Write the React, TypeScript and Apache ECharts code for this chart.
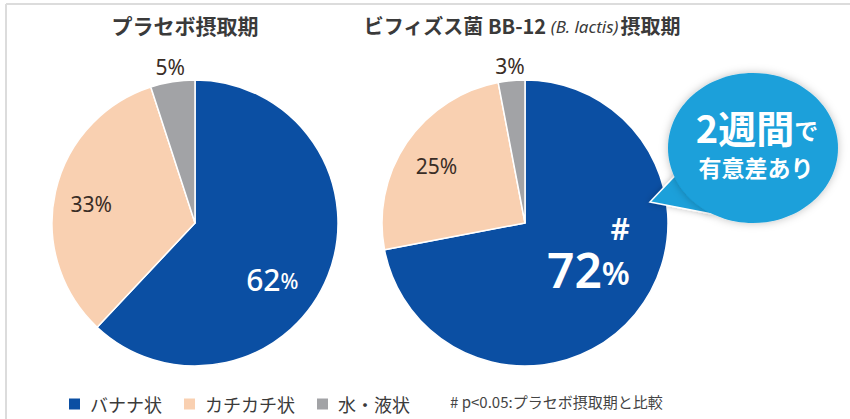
import React, { useEffect, useRef } from "react";
import * as echarts from "echarts";

const categories = ["バナナ状", "カチカチ状", "水・液状"];
const placeboValues = [62, 33, 5];
const bb12Values = [72, 25, 3];
const chartTitles = ["プラセボ摂取期", "ビフィズス菌 BB-12 ", "(B. lactis)", "摂取期"];
const calloutLines = ["2週間", "で", "有意差あり"];
const noteText = "# p<0.05:プラセボ摂取期と比較";
const sigMarks = ["#", "", ""]; // significance mark for the BB-12 series

const COLORS = ["#0b4fa3", "#f9d0b1", "#a2a3a6"];
const FONT = "'Noto Sans', 'Noto Sans CJK JP', sans-serif";
const JFONT = "'Noto Sans CJK JP', 'Noto Sans', sans-serif";

// label style tweaks (padding shifts label within slice)
const leftLabelStyles = [
  { padding: [58, 0, 0, 16], color: "#fff", rich: "big" },
  { padding: [0, 62, 6, 0], color: "#3a2d26", rich: "small" },
  { padding: [0, 26, 164, 0], color: "#3a2d26", rich: "small" },
];
const rightLabelStyles = [
  { padding: [0, 0, 36, 12], color: "#fff", rich: "huge" },
  { padding: [0, 54, 30, 0], color: "#3a2d26", rich: "small" },
  { padding: [0, 16, 166, 0], color: "#3a2d26", rich: "small" },
];

function makeData(values: number[], styles: any[], marks: string[]) {
  return values.map((v, i) => {
    const st = styles[i];
    let formatter: string;
    if (st.rich === "big") formatter = `{b|${v}}{p|%}`;
    else if (st.rich === "huge") formatter = (marks[i] ? `{h|${marks[i]}}\n` : "") + `{b|${v}}{p|%}`;
    else formatter = `{s|${v}%}`;
    return {
      name: categories[i],
      value: v,
      itemStyle: { color: COLORS[i] },
      label: {
        show: true,
        position: "inside",
        formatter,
        padding: st.padding,
        rich:
          st.rich === "big"
            ? {
                b: { fontSize: 30, color: st.color, fontFamily: FONT, fontWeight: 500, lineHeight: 34 },
                p: { fontSize: 21, color: st.color, fontFamily: FONT, fontWeight: 500, lineHeight: 34, padding: [4, 0, 0, 0] },
              }
            : st.rich === "huge"
            ? {
                h: { fontSize: 30, color: st.color, fontFamily: FONT, fontWeight: 600, lineHeight: 34, align: "right" },
                b: { fontSize: 48, color: st.color, fontFamily: FONT, fontWeight: 600, lineHeight: 48 },
                p: { fontSize: 32, color: st.color, fontFamily: FONT, fontWeight: 600, lineHeight: 48, padding: [6, 0, 0, 0] },
              }
            : {
                s: { fontSize: 21, color: st.color, fontFamily: FONT, lineHeight: 24 },
              },
      },
    };
  });
}

export default function App() {
  const ref = useRef<HTMLDivElement>(null);
  useEffect(() => {
    document.body.style.margin = "0";
    if (!ref.current) return;
    const chart = echarts.init(ref.current, undefined, { renderer: "svg" });
    const pieBase = {
      type: "pie",
      radius: 143,
      startAngle: 90,
      clockwise: true,
      labelLine: { show: false },
      itemStyle: { borderColor: "#fff", borderWidth: 1.5 },
      emphasis: { disabled: true },
      silent: true,
    };
    chart.setOption({
      animation: false,
      backgroundColor: "#fff",
      legend: {
        data: categories,
        left: 62,
        top: 390,
        icon: "rect",
        itemWidth: 13,
        itemHeight: 13,
        itemGap: 20,
        selectedMode: false,
        textStyle: { fontSize: 18, color: "#3a3a3a", fontFamily: JFONT, padding: [0, 0, 0, 4] },
      },
      series: [
        { ...pieBase, name: "placebo", center: [195, 223], data: makeData(placeboValues, leftLabelStyles, ["", "", ""]) },
        { ...pieBase, name: "bb12", center: [525, 223], data: makeData(bb12Values, rightLabelStyles, sigMarks) },
      ],
      graphic: [
        { type: "line", shape: { x1: 6, y1: 4, x2: 850, y2: 4 }, style: { stroke: "#dcdcdc", lineWidth: 2 } },
        { type: "line", shape: { x1: 6, y1: 4, x2: 6, y2: 419 }, style: { stroke: "#dcdcdc", lineWidth: 2 } },
        {
          type: "text",
          x: 185,
          y: 25,
          style: {
            text: chartTitles[0],
            fontSize: 21,
            fontWeight: "bold",
            fontFamily: JFONT,
            fill: "#3a3a3a",
            align: "center",
            verticalAlign: "middle",
          },
        },
        {
          type: "text",
          x: 522,
          y: 25,
          style: {
            text: `{m|${chartTitles[1]}}{s|${chartTitles[2]}}{m|${chartTitles[3]}}`,
            align: "center",
            verticalAlign: "middle",
            rich: {
              m: { fontSize: 20, fontWeight: "bold", fontFamily: JFONT, fill: "#3a3a3a", lineHeight: 28 },
              s: { fontSize: 17, fontStyle: "italic", fontFamily: FONT, fill: "#3a3a3a", lineHeight: 28, padding: [2, 2, 0, 0] },
            },
          },
        },
        {
          type: "polygon",
          shape: { points: [[650, 202], [688, 162], [712, 214]] },
          style: { fill: "#1ba0da", stroke: "#fff", lineWidth: 1.5, shadowBlur: 6, shadowColor: "rgba(0,0,0,0.25)" },
          z: 10,
        },
        {
          type: "ellipse",
          shape: { cx: 753, cy: 148, rx: 85, ry: 75 },
          style: { fill: "#1ba0da", shadowBlur: 8, shadowColor: "rgba(0,0,0,0.25)" },
          z: 11,
        },
        {
          type: "text",
          x: 757,
          y: 126,
          z: 12,
          style: {
            text: `{a|${calloutLines[0]}}{b|${calloutLines[1]}}`,
            align: "center",
            verticalAlign: "middle",
            rich: {
              a: { fontSize: 38, fontWeight: "bold", fontFamily: JFONT, fill: "#fff", lineHeight: 40 },
              b: { fontSize: 24, fontWeight: "bold", fontFamily: JFONT, fill: "#fff", lineHeight: 34, padding: [6, 0, 0, 0] },
            },
          },
        },
        {
          type: "text",
          x: 756,
          y: 167,
          z: 12,
          style: {
            text: calloutLines[2],
            fontSize: 23,
            lineHeight: 24,
            fontWeight: "bold",
            fontFamily: JFONT,
            fill: "#fff",
            align: "center",
            verticalAlign: "middle",
          },
        },
        {
          type: "text",
          x: 450,
          y: 401,
          style: {
            text: noteText,
            fontSize: 15,
            fontFamily: JFONT,
            fill: "#444",
            align: "left",
            verticalAlign: "middle",
          },
        },
      ],
    });
    return () => chart.dispose();
  }, []);
  return <div ref={ref} style={{ width: 850, height: 419 }} />;
}
